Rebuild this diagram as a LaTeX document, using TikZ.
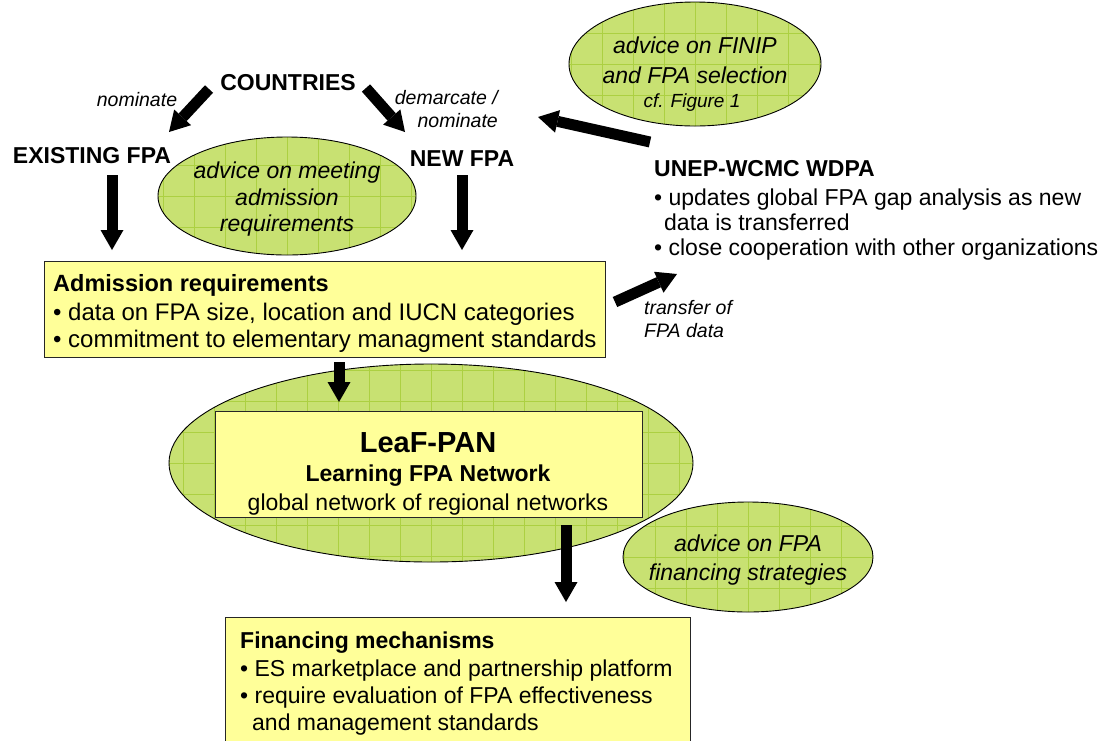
\documentclass[tikz,border=0pt]{standalone}
\usepackage{fontspec}
\setmainfont{Liberation Sans}
\usetikzlibrary{arrows.meta,shapes.geometric}
\definecolor{ellfill}{RGB}{200,225,114}
\definecolor{ellgrid}{RGB}{172,208,66}
\definecolor{boxfill}{RGB}{255,255,153}
\begin{document}
\begin{tikzpicture}[x=1pt,y=-1pt,
  greenell/.style={ellipse, draw=black, line width=0.9pt, fill=ellfill, inner sep=0pt,
    path picture={\draw[ellgrid, line width=0.7pt, step=31pt] (path picture bounding box.south west) grid (path picture bounding box.north east);}},
  yellowbox/.style={rectangle, draw=black!85, line width=1.4pt, fill=boxfill, inner sep=0pt, anchor=north west},
  bigarrow/.style={line width=11pt, -{Triangle[length=20pt,width=23pt,line width=0pt]}},
  bodytext/.style={font=\fontsize{23}{27}\selectfont, inner sep=0pt},
  admtext/.style={font=\fontsize{24}{28}\selectfont, inner sep=0pt},
  headtext/.style={font=\bfseries\fontsize{23}{27}\selectfont, inner sep=0pt},
  labeltext/.style={font=\itshape\fontsize{19.5}{23}\selectfont, inner sep=0pt},
  advice/.style={font=\itshape\fontsize{23}{27}\selectfont, inner sep=0pt, anchor=base},
]
\useasboundingbox (0,0) rectangle (1106,740);

% green ellipses
\node[greenell, minimum width=252pt, minimum height=124pt] (e1) at (695,64) {};
\node[greenell, minimum width=258pt, minimum height=118pt] (e2) at (287,196) {};
\node[greenell, minimum width=524pt, minimum height=198pt] (e4) at (431,463) {};
\node[greenell, minimum width=250pt, minimum height=110pt] (e3) at (748,557) {};

% ellipse texts
\node[advice] (e1a) at (695,53) {advice on FINIP};
\node[advice] (e1b) at (695,83) {and FPA selection};
\node[advice, font=\itshape\fontsize{19}{22}\selectfont] (e1c) at (692,107) {cf. Figure 1};
\node[advice] (e2a) at (287,178) {advice on meeting};
\node[advice] (e2b) at (287,205) {admission};
\node[advice] (e2c) at (287,231) {requirements};
\node[advice] (e3a) at (748,551) {advice on FPA};
\node[advice] (e3b) at (748,580) {financing strategies};

% boxes
\node[yellowbox, minimum width=561pt, minimum height=96pt] (adm) at (44,261) {};
\node[yellowbox, minimum width=427pt, minimum height=106pt] (leaf) at (215,411) {};
\node[yellowbox, minimum width=465pt, minimum height=150pt] (fin) at (225,617) {};

% top labels
\node[headtext, anchor=base] (countries) at (288,90) {COUNTRIES};
\node[labeltext, anchor=base] (nom) at (137,106) {nominate};
\node[labeltext, anchor=base east] (dema) at (498,104) {demarcate /};
\node[labeltext, anchor=base east] (demb) at (498,127) {nominate};
\node[headtext, anchor=base] (existing) at (92,163) {EXISTING FPA};
\node[headtext, anchor=base] (newfpa) at (462,166) {NEW FPA};

% UNEP block
\node[headtext, anchor=base west] (unep) at (654,176) {UNEP-WCMC WDPA};
\node[bodytext, anchor=base west] (unep1) at (654,205) {• updates global FPA gap analysis as new};
\node[bodytext, anchor=base west] (unep2) at (664,230) {data is transferred};
\node[bodytext, anchor=base west] (unep3) at (654,255) {• close cooperation with other organizations};

% admission text
\node[headtext, font=\bfseries\fontsize{23.5}{28}\selectfont, anchor=base west] (admt) at (53,291) {Admission requirements};
\node[admtext, anchor=base west] (adm1) at (53,320) {• data on FPA size, location and IUCN categories};
\node[admtext, anchor=base west] (adm2) at (53,347) {• commitment to elementary managment standards};

% transfer label
\node[labeltext, anchor=base west] (tra) at (644,314) {transfer of};
\node[labeltext, anchor=base west] (trb) at (644,337) {FPA data};

% LeaF-PAN text
\node[font=\bfseries\fontsize{29}{33}\selectfont, inner sep=0pt, anchor=base] (leafa) at (428,452) {LeaF-PAN};
\node[headtext, anchor=base] (leafb) at (428,481) {Learning FPA Network};
\node[bodytext, anchor=base] (leafc) at (428,510) {global network of regional networks};

% financing text
\node[headtext, anchor=base west] (fint) at (240,648) {Financing mechanisms};
\node[bodytext, anchor=base west] (fin1) at (240,676) {• ES marketplace and partnership platform};
\node[bodytext, anchor=base west] (fin2) at (240,703) {• require evaluation of FPA effectiveness};
\node[bodytext, anchor=base west] (fin3) at (252,730) {and management standards};

% arrow end points
\coordinate (c1s) at (209,89);  \coordinate (c1e) at (169,132);
\coordinate (c2s) at (366,88);  \coordinate (c2e) at (405,132);
\coordinate (x1s) at (112,175); \coordinate (x1e) at (112,250);
\coordinate (n1s) at (462,175); \coordinate (n1e) at (462,250);
\coordinate (u1s) at (650,142); \coordinate (u1e) at (538,117);
\coordinate (t1s) at (615,302); \coordinate (t1e) at (677,274);
\coordinate (a1s) at (339,362); \coordinate (a1e) at (339,402);
\coordinate (l1s) at (566,525); \coordinate (l1e) at (566,602);

\draw[bigarrow] (c1s) -- (c1e);
\draw[bigarrow] (c2s) -- (c2e);
\draw[bigarrow] (x1s) -- (x1e);
\draw[bigarrow] (n1s) -- (n1e);
\draw[bigarrow] (u1s) -- (u1e);
\draw[bigarrow] (t1s) -- (t1e);
\draw[bigarrow] (a1s) -- (a1e);
\draw[bigarrow] (l1s) -- (l1e);
\end{tikzpicture}
\end{document}
